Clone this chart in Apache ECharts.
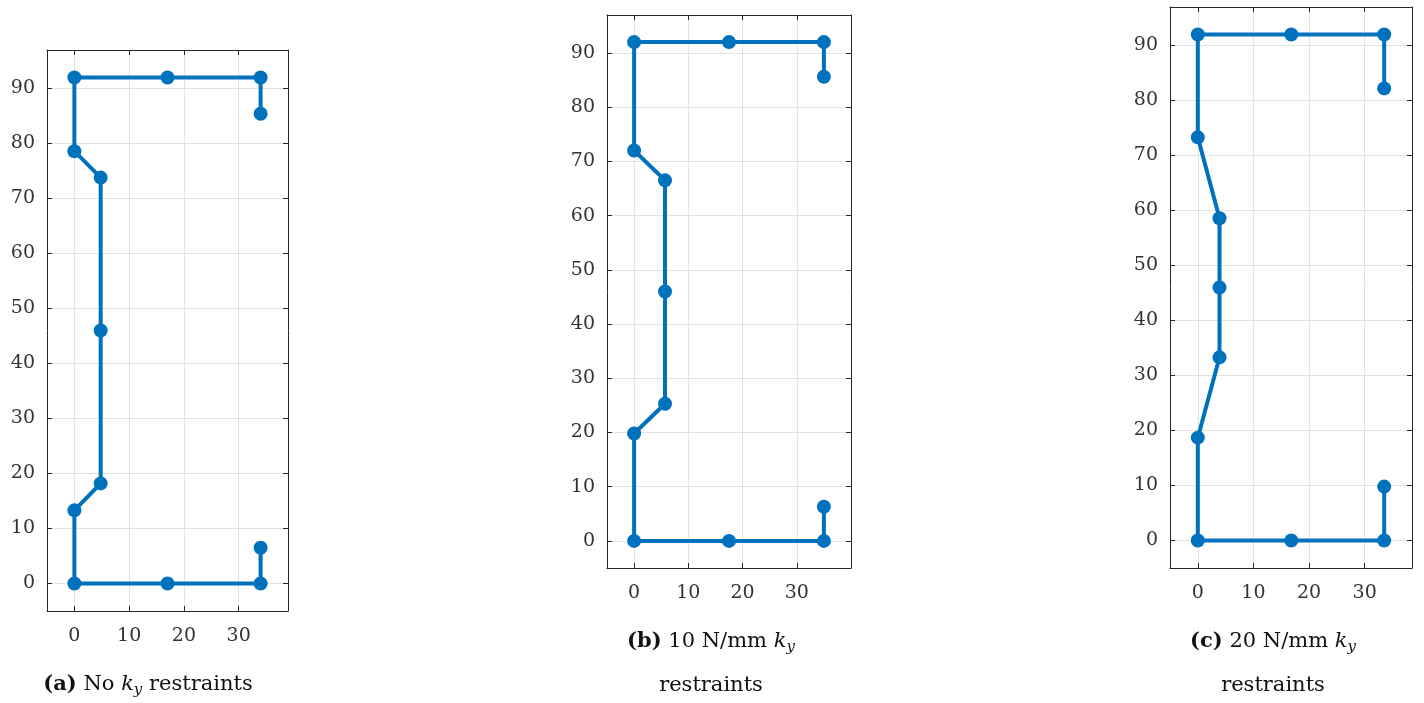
<!DOCTYPE html>
<html>
<head>
<meta charset="utf-8">
<script src="https://cdn.jsdelivr.net/npm/echarts@6/dist/echarts.min.js"></script>
<style>
html,body{margin:0;padding:0;background:#fff;}
#chart{width:1424px;height:703px;}
</style>
</head>
<body>
<div id="chart"></div>
<script>
// Panel (a): No k_y restraints
const aX = [34, 34, 17, 0, 0, 4.8, 4.8, 4.8, 0, 0, 17, 34, 34];
const aY = [6.5, 0, 0, 0, 13.3, 18.2, 46, 73.8, 78.6, 92, 92, 92, 85.4];
// Panel (b): 10 N/mm k_y restraints
const bX = [35, 35, 17.5, 0, 0, 5.7, 5.7, 5.7, 0, 0, 17.5, 35, 35];
const bY = [6.3, 0, 0, 0, 19.8, 25.3, 46, 66.5, 72, 92, 92, 92, 85.6];
// Panel (c): 20 N/mm k_y restraints
const cX = [33.5, 33.5, 16.8, 0, 0, 3.9, 3.9, 3.9, 0, 0, 16.8, 33.5, 33.5];
const cY = [9.8, 0, 0, 0, 18.7, 33.3, 46, 58.6, 73.3, 92, 92, 92, 82.2];

const xTicks = [0, 10, 20, 30];
const yTicks = [0, 10, 20, 30, 40, 50, 60, 70, 80, 90];
const xRanges = [[-5, 39], [-5, 40], [-5, 38.5]];
const yRange = [-5, 97];
const captionsLine1 = ['{b|(a)} No {i|k}{s|y} restraints', '{b|(b)} 10 N/mm {i|k}{s|y}', '{b|(c)} 20 N/mm {i|k}{s|y}'];
const captionsLine2 = ['', 'restraints', 'restraints'];

const FONT = '"DejaVu Serif", "Liberation Serif", serif';
const AXC = '#262626';
const LINEC = '#0072BD';

const gridsPos = [
  {left: 47, top: 50, width: 241, height: 561},
  {left: 607, top: 15, width: 244, height: 553},
  {left: 1170, top: 7, width: 242, height: 561}
];
const capPos = [
  {x: 148, y1: 685, y2: null},
  {x: 711, y1: 642, y2: 686},
  {x: 1273, y1: 642, y2: 686}
];

const xs = [aX, bX, cX];
const ys = [aY, bY, cY];

const grid = [], xAxis = [], yAxis = [], series = [], graphic = [];

function mkAxis(kind, gi, range, ticks, pos, labels) {
  return {
    type: 'value', gridIndex: gi, position: pos,
    min: range[0], max: range[1],
    axisLine: {show: true, onZero: false, lineStyle: {color: AXC, width: 1}},
    axisTick: {show: true, inside: true, length: 5, lineStyle: {color: AXC}, customValues: ticks},
    axisLabel: {show: labels, customValues: ticks, color: '#333', fontFamily: FONT, fontSize: 19,
      margin: kind === 'x' ? 16 : 12},
    splitLine: {show: labels, lineStyle: {color: '#e3e3e3', width: 1}}
  };
}

for (let i = 0; i < 3; i++) {
  grid.push(Object.assign({containLabel: false}, gridsPos[i]));
  xAxis.push(mkAxis('x', i, xRanges[i], xTicks, 'bottom', true));
  xAxis.push(mkAxis('x', i, xRanges[i], xTicks, 'top', false));
  yAxis.push(mkAxis('y', i, yRange, yTicks, 'left', true));
  yAxis.push(mkAxis('y', i, yRange, yTicks, 'right', false));
  const pts = xs[i].map((x, k) => [x, ys[i][k]]);
  series.push({
    type: 'line', xAxisIndex: 2 * i, yAxisIndex: 2 * i,
    data: pts, symbol: 'circle', symbolSize: 14, showSymbol: true,
    lineStyle: {color: LINEC, width: 4}, itemStyle: {color: LINEC},
    animation: false, silent: true, z: 5
  });
  const rich = {
    b: {fontFamily: FONT, fontSize: 21, fontWeight: 'bold', color: '#111'},
    i: {fontFamily: FONT, fontSize: 21, fontStyle: 'italic', color: '#111'},
    s: {fontFamily: FONT, fontSize: 15, fontStyle: 'italic', color: '#111', padding: [10, 0, 0, 0]}
  };
  graphic.push({
    type: 'text', x: capPos[i].x, y: capPos[i].y1,
    style: {text: captionsLine1[i], rich: rich, font: '21px ' + FONT, fill: '#111', align: 'center', verticalAlign: 'middle'}
  });
  if (capPos[i].y2) {
    graphic.push({
      type: 'text', x: capPos[i].x, y: capPos[i].y2,
      style: {text: captionsLine2[i], font: '21px ' + FONT, fill: '#111', align: 'center', verticalAlign: 'middle'}
    });
  }
}

const chart = echarts.init(document.getElementById('chart'));
chart.setOption({animation: false, grid, xAxis, yAxis, series, graphic});
</script>
</body>
</html>
